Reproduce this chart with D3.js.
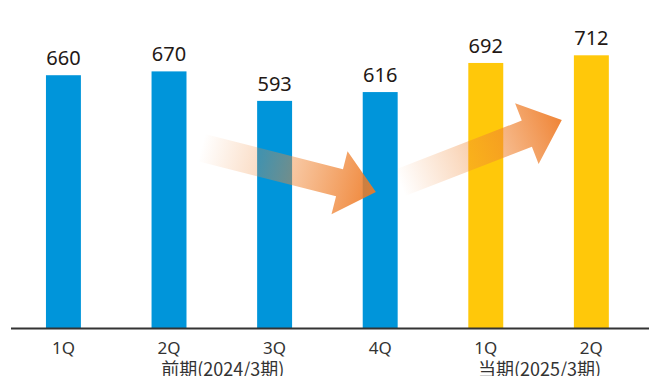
<!DOCTYPE html>
<html><head><meta charset="utf-8">
<script src="https://cdn.jsdelivr.net/npm/d3@7"></script>
<style>html,body{margin:0;padding:0;background:#fff;}svg{display:block;}</style>
</head><body>
<svg id="chart" width="649" height="376"></svg>
<script>
// Data
const quarters = ["1Q","2Q","3Q","4Q","1Q","2Q"];
const values = [660, 670, 593, 616, 692, 712];
const periods = ["prev","prev","prev","prev","curr","curr"];
const groupLabels = ["前期(2024/3期)", "当期(2025/3期)"];
const groupSpans = [[1,2],[4,5]];
// Trend arrows in data space: [tailIndex, tailValue, tipIndex, tipValue]
const arrows = [[1.307, 471, 2.959, 355], [3.187, 379, 4.72, 543]];

const colors = {prev: "#0095DA", curr: "#FFC80A"};
const svg = d3.select("#chart");
const W = 649, H = 376;
const baseY = 328;

const x = d3.scaleBand().domain(d3.range(values.length))
  .range([35.4, 619.4]).paddingInner(0.669).paddingOuter(0.1);
const y = d3.scaleLinear().domain([0, 800]).range([baseY, baseY - 800*0.383]);
const step = x.step(), bw = x.bandwidth();
const xc = i => x(0) + bw/2 + i*step;

// gradient
const defs = svg.append("defs");
const grad = defs.append("linearGradient").attr("id","arrowGrad")
  .attr("x1","0").attr("y1","0").attr("x2","1").attr("y2","0");
grad.append("stop").attr("offset","0").attr("stop-color","#F08A3A").attr("stop-opacity",0);
grad.append("stop").attr("offset","0.35").attr("stop-color","#F08A3A").attr("stop-opacity",0.3);
grad.append("stop").attr("offset","1").attr("stop-color","#EE7A25").attr("stop-opacity",0.92);

// bars
svg.append("g").selectAll("rect").data(values).join("rect")
  .attr("x", (d,i) => x(i)).attr("width", bw)
  .attr("y", d => y(d)).attr("height", d => baseY - y(d))
  .attr("fill", (d,i) => colors[periods[i]]);

// value labels
svg.append("g").selectAll("text").data(values).join("text")
  .attr("x", (d,i) => x(i) + bw/2).attr("y", d => y(d) - 10)
  .attr("text-anchor","middle")
  .attr("font-family","'Noto Sans', sans-serif").attr("font-size", 20)
  .attr("fill","#231815").text(d => d);

// arrows
const sw = 14, hw = 32.5, hl = 37.5;
arrows.forEach(a => {
  const x0 = xc(a[0]), y0 = y(a[1]), x1 = xc(a[2]), y1 = y(a[3]);
  const L = Math.hypot(x1-x0, y1-y0);
  const ang = Math.atan2(y1-y0, x1-x0) * 180/Math.PI;
  const p = d3.path();
  p.moveTo(0,-sw); p.lineTo(L-hl,-sw); p.lineTo(L-hl,-hw); p.lineTo(L,0);
  p.lineTo(L-hl,hw); p.lineTo(L-hl,sw); p.lineTo(0,sw); p.closePath();
  svg.append("path").attr("d", p.toString())
    .attr("transform", `translate(${x0},${y0}) rotate(${ang})`)
    .attr("fill","url(#arrowGrad)");
});

// axis
const axis = svg.append("g").attr("transform", `translate(0,${baseY})`)
  .call(d3.axisBottom(x).tickSize(0).tickFormat(i => quarters[i]));
axis.select(".domain").remove();
axis.selectAll("text").attr("dy", null).attr("y", 26)
  .attr("font-family","'Noto Sans', sans-serif").attr("font-size", 17).attr("fill","#333");
svg.append("line").attr("x1", 11).attr("x2", W).attr("y1", baseY+0.5).attr("y2", baseY+0.5)
  .attr("stroke","#333").attr("stroke-width", 2);

// group labels
svg.append("g").selectAll("text").data(groupLabels).join("text")
  .attr("x", (d,i) => (xc(groupSpans[i][0]) + xc(groupSpans[i][1]))/2 + 1)
  .attr("y", 376).attr("text-anchor","middle")
  .attr("font-family","'Noto Sans CJK JP', sans-serif").attr("font-size", 18)
  .attr("fill","#333").text(d => d);
</script>
</body></html>
